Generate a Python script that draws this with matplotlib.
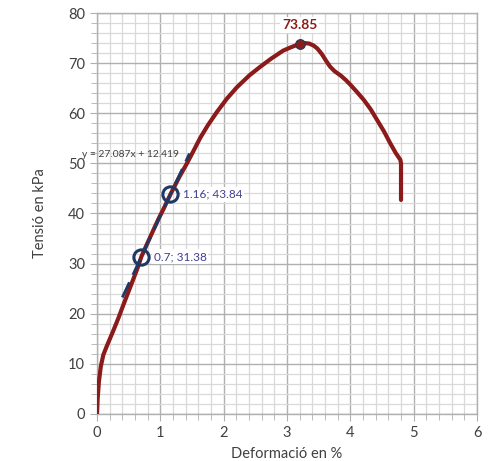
import matplotlib
matplotlib.use('Agg')
import matplotlib.pyplot as plt
from matplotlib.ticker import MultipleLocator

plt.rcParams['font.family'] = ['Lato', 'DejaVu Sans']

# stress-strain curve
deformacio = [0.0, 0.01, 0.03, 0.06, 0.1, 0.15, 0.2, 0.26, 0.34, 0.42, 0.5, 0.57,
              0.64, 0.7, 0.8, 0.89, 0.97, 1.05, 1.16, 1.3, 1.42, 1.52, 1.63,
              1.75, 1.89, 2.05, 2.21, 2.41, 2.57, 2.75, 2.94, 3.05, 3.15, 3.2,
              3.28, 3.35, 3.42, 3.48, 3.55, 3.62, 3.68, 3.75, 3.85, 3.93, 4.0,
              4.1, 4.21, 4.32, 4.42, 4.53, 4.63, 4.72, 4.79, 4.8, 4.8]
tensio = [0.0, 3.0, 6.5, 9.5, 11.8, 13.4, 14.9, 16.7, 19.2, 21.9, 24.5, 26.8,
          29.1, 31.38, 34.2, 36.7, 38.9, 40.9, 43.84, 47.3, 50.0, 52.4, 55.1,
          57.6, 60.2, 62.9, 65.2, 67.6, 69.2, 70.9, 72.5, 73.1, 73.6, 73.85,
          74.0, 73.9, 73.5, 72.9, 71.8, 70.4, 69.3, 68.4, 67.5, 66.6, 65.7,
          64.3, 62.7, 60.8, 58.7, 56.4, 54.0, 52.0, 50.7, 50.0, 42.7]

# linear trendline y = 27.087x + 12.419
tend_x = [0.4, 1.46]
pendent = 27.087
origen = 12.419
tend_y = [pendent * v + origen for v in tend_x]

punts_x = [0.7, 1.16]
punts_y = [31.38, 43.84]
punts_lbl = ['0.7; 31.38', '1.16; 43.84']

pic_x = 3.2
pic_y = 73.85

vermell = '#8B1A1A'
blau = '#1F3864'
text_gris = '#404040'

fig = plt.figure(figsize=(4.88, 4.61), dpi=100)
ax = fig.add_axes([0.1988, 0.1020, 0.7787, 0.8698])

ax.plot(deformacio, tensio, color=vermell, lw=3, solid_capstyle='round',
        solid_joinstyle='round', zorder=3)
ax.plot(tend_x, tend_y, color=blau, lw=2, dashes=(6, 3), zorder=4)

ax.plot(punts_x, punts_y, 'o', ms=11, mfc='none', mec=blau, mew=2.2, zorder=5)
for px, py, lbl in zip(punts_x, punts_y, punts_lbl):
    ax.annotate(lbl, (px, py), xytext=(9, 0), textcoords='offset points',
                va='center', ha='left', fontsize=8.5, color='#3F3F8F',
                bbox=dict(boxstyle='square,pad=0.15', fc='white', ec='none'), zorder=6)

ax.plot([pic_x], [pic_y], 'o', ms=7, mfc=vermell, mec=blau, mew=0.8, zorder=5)
ax.annotate('%.2f' % pic_y, (pic_x, pic_y), xytext=(0, 9), textcoords='offset points',
            ha='center', va='bottom', fontsize=10, fontweight='bold', color=vermell,
            bbox=dict(boxstyle='square,pad=0.15', fc='white', ec='none'), zorder=6)

ax.text(-0.24, 51.7, 'y = 27.087x + 12.419', fontsize=7.4, color=text_gris,
        ha='left', va='center', clip_on=False, zorder=6)

ax.set_xlim(0, 6)
ax.set_ylim(0, 80)
ax.xaxis.set_major_locator(MultipleLocator(1))
ax.xaxis.set_minor_locator(MultipleLocator(0.2))
ax.yaxis.set_major_locator(MultipleLocator(10))
ax.yaxis.set_minor_locator(MultipleLocator(2))
ax.grid(which='major', color='#B0B0B0', lw=1.0)
ax.grid(which='minor', color='#D9D9D9', lw=0.9)
ax.set_axisbelow(True)

for s in ax.spines.values():
    s.set_color('#B0B0B0')
    s.set_linewidth(1.0)
ax.tick_params(which='both', colors='#B0B0B0', labelcolor=text_gris, labelsize=10.5,
               direction='out')
ax.tick_params(which='major', length=5)
ax.tick_params(which='minor', length=4)

ax.set_xlabel('Deformació en %', fontsize=10.5, color=text_gris, labelpad=5)
ax.set_ylabel('Tensió en kPa', fontsize=10.5, color=text_gris, labelpad=15)

fig.savefig('out.png', dpi=100)
